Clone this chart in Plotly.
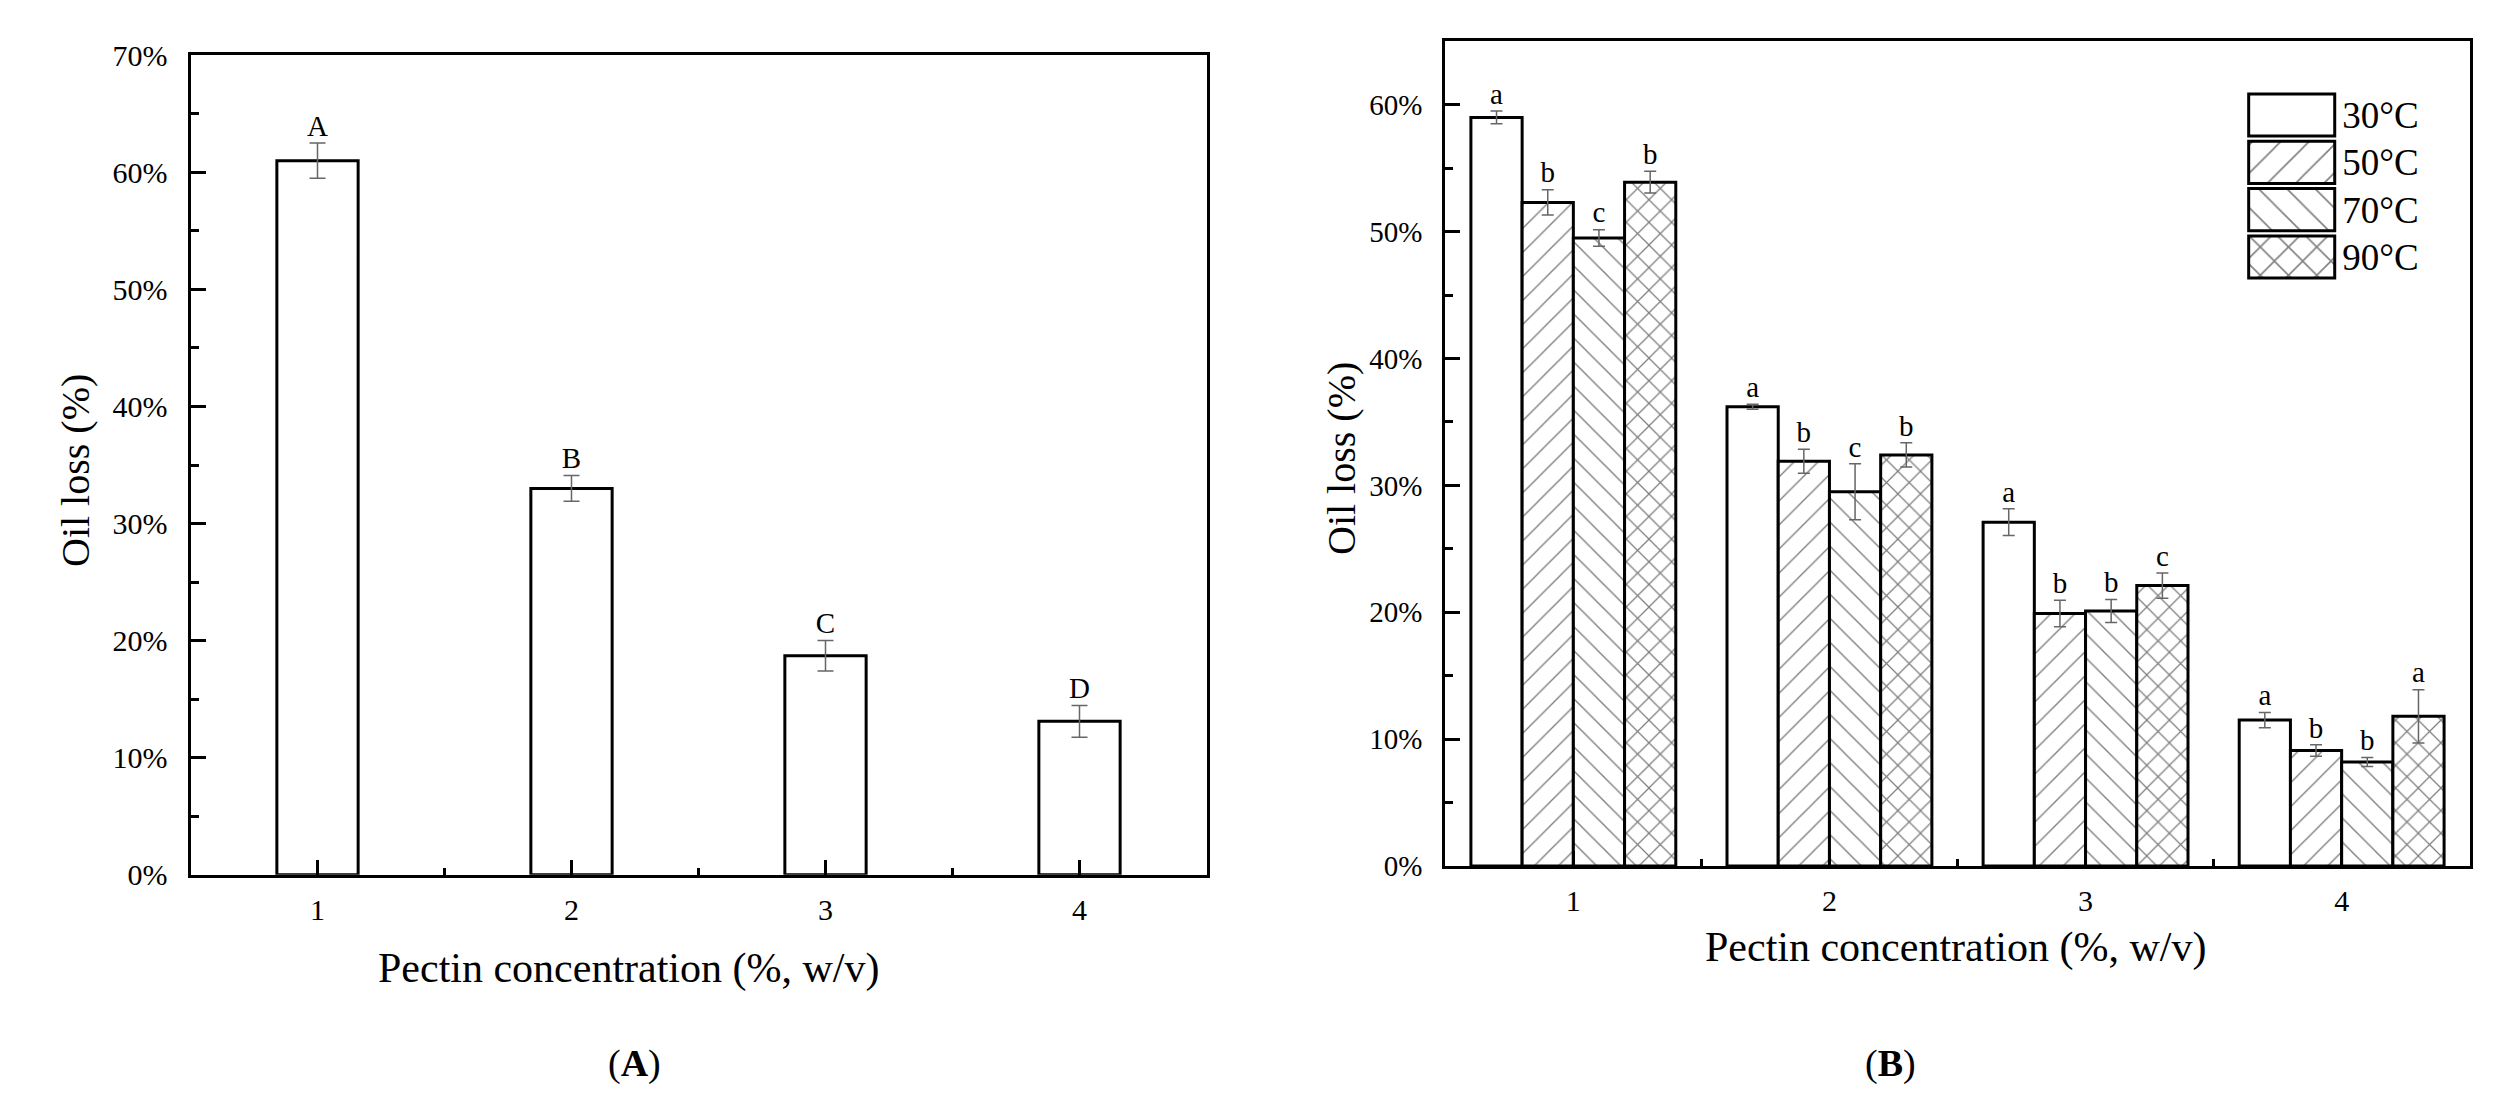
import plotly.graph_objects as go

# ---- data ----
conc = [1, 2, 3, 4]

# panel A
loss_a = [61.0, 33.0, 18.7, 13.1]
err_a = [1.5, 1.1, 1.3, 1.35]
letters_a = ["A", "B", "C", "D"]

# panel B
temps = ["30°C", "50°C", "70°C", "90°C"]
loss_30 = [59.0, 36.2, 27.1, 11.5]
loss_50 = [52.3, 31.9, 19.9, 9.1]
loss_70 = [49.5, 29.5, 20.1, 8.2]
loss_90 = [53.9, 32.4, 22.1, 11.8]
err_30 = [0.5, 0.2, 1.05, 0.6]
err_50 = [1.0, 0.95, 1.05, 0.45]
err_70 = [0.65, 2.2, 0.9, 0.35]
err_90 = [0.85, 0.95, 1.0, 2.1]
let_30 = ["a", "a", "a", "a"]
let_50 = ["b", "b", "b", "b"]
let_70 = ["c", "c", "b", "b"]
let_90 = ["b", "b", "c", "a"]

FONT = "Liberation Serif, Times New Roman, serif"
patterns = ["", "/", "\\", "x"]
solid = [0.08, 0.08, 0.08, 0.15]
W, H = 2515, 1093
LW = 3

fig = go.Figure()

# panel A bars
fig.add_trace(go.Bar(
    x=conc, y=loss_a, width=0.32, xaxis="x", yaxis="y",
    marker=dict(color="white", line=dict(color="black", width=LW)),
    error_y=dict(type="data", array=err_a, color="#666666", thickness=1.5, width=8),
))
fig.add_trace(go.Scatter(
    x=conc, y=[v + e for v, e in zip(loss_a, err_a)], mode="text",
    text=letters_a, textposition="top center", xaxis="x", yaxis="y",
    textfont=dict(family=FONT, size=29, color="black"),
))

# panel B bars
series = [
    (loss_30, err_30, let_30),
    (loss_50, err_50, let_50),
    (loss_70, err_70, let_70),
    (loss_90, err_90, let_90),
]
for k, (vals, errs, lets) in enumerate(series):
    fig.add_trace(go.Bar(
        x=conc, y=vals, name=temps[k], xaxis="x2", yaxis="y2",
        marker=dict(color="white", line=dict(color="black", width=LW),
                    pattern=dict(shape=patterns[k], fgcolor="black", bgcolor="white",
                                 size=17 if k < 3 else 16, solidity=solid[k])),
        error_y=dict(type="data", array=errs, color="#666666", thickness=1.5, width=6),
    ))
    # letter positions follow the grouped bar offsets (4 bars of 0.2 each)
    fig.add_trace(go.Scatter(
        x=[c + (k - 1.5) * 0.2 for c in conc],
        y=[v + e for v, e in zip(vals, errs)], mode="text",
        text=lets, textposition="top center", xaxis="x2", yaxis="y2",
        textfont=dict(family=FONT, size=29, color="black"),
    ))

# legend drawn as a small inset of patterned bars
fig.add_trace(go.Bar(
    y=temps, x=[1] * len(temps), orientation="h", width=0.89,
    xaxis="x3", yaxis="y3",
    marker=dict(color="white", line=dict(color="black", width=LW),
                pattern=dict(shape=patterns, fgcolor="black", bgcolor="white",
                             size=20, solidity=solid)),
))

axis_common = dict(
    showline=True, mirror=True, linecolor="black", linewidth=LW, automargin=False,
    showgrid=False, zeroline=False, ticks="inside", ticklen=15, tickwidth=LW,
    tickcolor="black", tickfont=dict(family=FONT, size=30, color="black"),
)
minor_y = dict(dtick=5, ticklen=8, ticks="inside", tickwidth=LW, tickcolor="black")
minor_x = dict(tickvals=[1.5, 2.5, 3.5], ticklen=7, ticks="inside",
               tickwidth=LW, tickcolor="black")

fig.update_layout(
    width=W, height=H,
    margin=dict(l=0, r=0, t=0, b=0, pad=0, autoexpand=False),
    paper_bgcolor="white", plot_bgcolor="white",
    showlegend=False, barmode="group", bargap=0.2, bargroupgap=0,
    font=dict(family=FONT, color="black"),
    xaxis=dict(axis_common, domain=[182.5 / W, 1198.5 / W], range=[0.5, 4.5],
               tickvals=conc, anchor="y", ticklabelstandoff=6, minor=minor_x),
    yaxis=dict(axis_common, domain=[1 - 866.7 / H, 1 - 47.3 / H], range=[0, 70],
               dtick=10, ticksuffix="%", anchor="x", ticklabelstandoff=14,
               minor=minor_y),
    xaxis2=dict(axis_common, domain=[1437.3 / W, 2461.7 / W], range=[0.5, 4.5],
                tickvals=conc, anchor="y2", ticklabelstandoff=6, minor=minor_x),
    yaxis2=dict(axis_common, domain=[1 - 858 / H, 1 - 33.3 / H], range=[0, 65],
                dtick=10, ticksuffix="%", anchor="x2", ticklabelstandoff=14,
                tickfont=dict(family=FONT, size=29, color="black"), minor=minor_y),
    xaxis3=dict(domain=[2238.1 / W, 2329.3 / W], range=[-0.03, 1.03], anchor="y3",
                visible=False, fixedrange=True, automargin=False),
    yaxis3=dict(domain=[1 - 272.6 / H, 1 - 83.4 / H], anchor="x3", side="right",
                autorange="reversed", showline=False, showgrid=False, zeroline=False,
                ticks="", ticklabelstandoff=4, automargin=False,
                tickfont=dict(family=FONT, size=37, color="black")),
)

annots = [
    dict(text="Oil loss (%)", x=67 / W, y=1 - 463 / H, textangle=-90, size=40),
    dict(text="Oil loss (%)", x=1333 / W, y=1 - 450 / H, textangle=-90, size=40),
    dict(text="Pectin concentration (%, w/v)", x=621 / W, y=1 - 960 / H, textangle=0, size=42),
    dict(text="Pectin concentration (%, w/v)", x=1948 / W, y=1 - 939 / H, textangle=0, size=42),
    dict(text="(<b>A</b>)", x=626 / W, y=1 - 1055 / H, textangle=0, size=38),
    dict(text="(<b>B</b>)", x=1882 / W, y=1 - 1055 / H, textangle=0, size=38),
]
for a in annots:
    fig.add_annotation(
        text=a["text"], x=a["x"], y=a["y"], xref="paper", yref="paper",
        xanchor="center", yanchor="middle", showarrow=False, textangle=a["textangle"],
        font=dict(family=FONT, size=a["size"], color="black"),
    )

fig.write_html("out.html")
